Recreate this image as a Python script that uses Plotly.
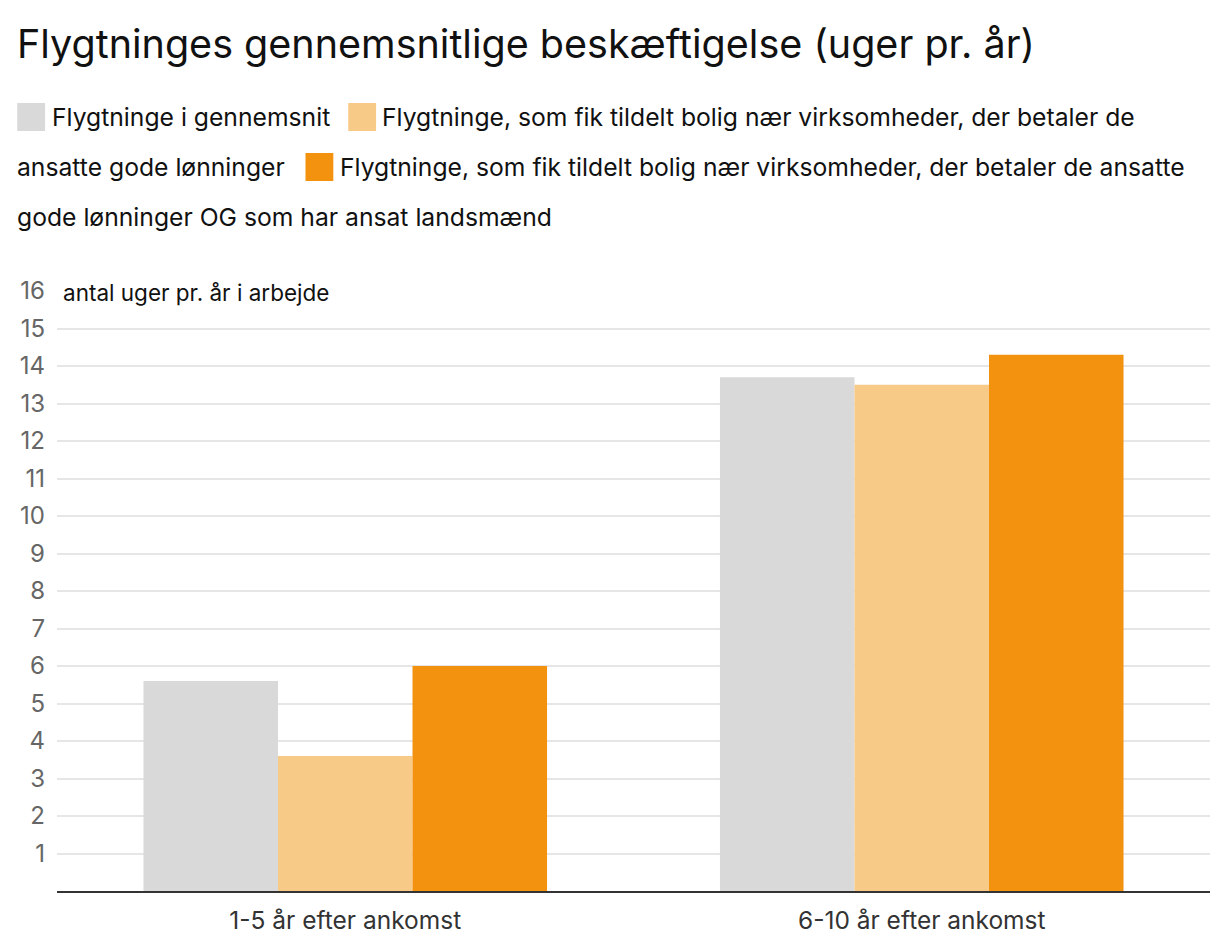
import plotly.graph_objects as go

# Data
categories = ["1-5 år efter ankomst", "6-10 år efter ankomst"]
series_names = [
    "Flygtninge i gennemsnit",
    "Flygtninge, som fik tildelt bolig nær virksomheder, der betaler de ansatte gode lønninger",
    "Flygtninge, som fik tildelt bolig nær virksomheder, der betaler de ansatte gode lønninger OG som har ansat landsmænd",
]
series_values = [
    [5.6, 13.7],
    [3.6, 13.5],
    [6.0, 14.3],
]
colors = ["#d9d9d9", "#f8ca88", "#f2920e"]
y_ticks = list(range(1, 17))

title = "Flygtninges gennemsnitlige beskæftigelse (uger pr. år)"
y_label = "antal uger pr. år i arbejde"

FONT = "Inter"
W, H = 1220, 952
OFF = 8  # default body margin of the page shifts the figure
# plot area in screen pixels: x 50..1210, y 291..891
L, R = 50 - OFF, W - (1210 - OFF)
T, B = 291 - OFF, H - (891 - OFF)
PW, PH = W - L - R, H - T - B


def px(x, y):
    # screen pixel position -> paper coordinates
    return (x - OFF - L) / PW, (H - B - (y - OFF)) / PH


def split_words(text, n):
    words = text.split(" ")
    return " ".join(words[:n]), " ".join(words[n:])


fig = go.Figure()
for name, vals, col in zip(series_names, series_values, colors):
    fig.add_trace(go.Bar(x=categories, y=vals, name=name, marker_color=col,
                         marker_line_width=0, showlegend=False))

# Legend drawn by hand so the labels wrap like running text
name2_a, name2_b = split_words(series_names[1], 10)
name3_a, name3_b = split_words(series_names[2], 11)
sq = 28
legend_rows = [
    (117, [("box", 10, 0), ("text", 44, series_names[0]),
           ("box", 343, 1), ("text", 376, name2_a)]),
    (167, [("text", 9, name2_b),
           ("box", 300, 2), ("text", 334, name3_a)]),
    (217, [("text", 9, name3_b)]),
]
shapes = []
annotations = []
for yc, items in legend_rows:
    for kind, x, content in items:
        if kind == "box":
            x0, y0 = px(x, yc + sq / 2)
            x1, y1 = px(x + sq, yc - sq / 2)
            shapes.append(dict(type="rect", xref="paper", yref="paper",
                               x0=x0, x1=x1, y0=y0, y1=y1,
                               fillcolor=colors[content], line_width=0))
        else:
            xp, yp = px(x - 1, yc)
            annotations.append(dict(text=content, xref="paper", yref="paper",
                                    x=xp, y=yp, xanchor="left", yanchor="middle",
                                    showarrow=False,
                                    font=dict(family=FONT, size=24.7, color="#111")))

xt, yt = px(8, 44)
annotations.append(dict(text=title, xref="paper", yref="paper", x=xt, y=yt,
                        xanchor="left", yanchor="middle", showarrow=False,
                        font=dict(family=FONT, size=39.5, color="#111")))
xl, yl = px(54, 292)
annotations.append(dict(text=y_label, xref="paper", yref="paper", x=xl, y=yl,
                        xanchor="left", yanchor="middle", showarrow=False,
                        bgcolor="white",
                        font=dict(family=FONT, size=22.5, color="#111")))

fig.update_layout(
    width=W, height=H,
    margin=dict(l=L, r=R, t=T, b=B),
    paper_bgcolor="white", plot_bgcolor="white",
    barmode="group", bargap=0.3, bargroupgap=0,
    font=dict(family=FONT),
    shapes=shapes, annotations=annotations,
)
fig.update_xaxes(showline=True, linecolor="#333", linewidth=2,
                 tickfont=dict(family=FONT, size=24.5, color="#333"),
                 ticklabelstandoff=7, ticks="", showgrid=False)
fig.update_yaxes(range=[0, 16], tickvals=y_ticks, showgrid=True,
                 gridcolor="#e6e6e6", gridwidth=2, zeroline=False,
                 tickfont=dict(family=FONT, size=24, color="#666"),
                 ticklabelstandoff=11, ticks="")

fig.write_html("out.html")
